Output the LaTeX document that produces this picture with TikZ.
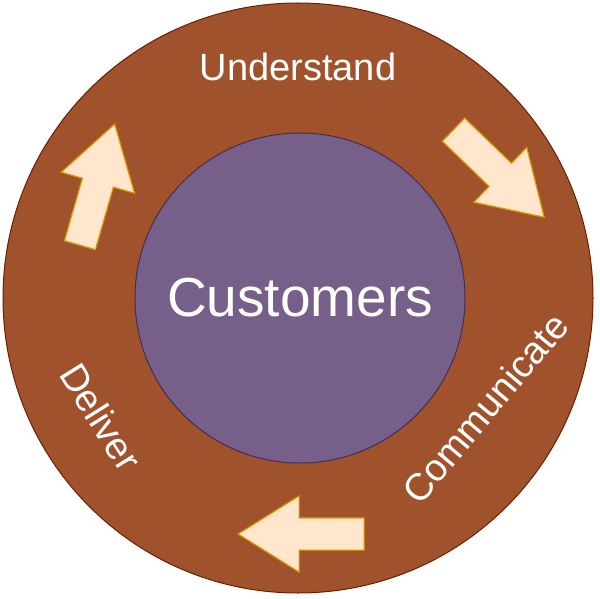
\documentclass[tikz,border=0pt]{standalone}
\usepackage{fontspec}
\setmainfont{Liberation Sans}
\usetikzlibrary{shapes.arrows,positioning}
\definecolor{ringfill}{HTML}{A0522D}
\definecolor{ringline}{HTML}{6D1F00}
\definecolor{custfill}{HTML}{76608A}
\definecolor{custline}{HTML}{432D57}
\definecolor{arrowfill}{HTML}{FFE6CC}
\definecolor{arrowline}{HTML}{D79B00}

\begin{document}
\begin{tikzpicture}[x=1pt,y=-1pt,
  ring/.style={circle,fill=ringfill,draw=ringline,line width=1pt,inner sep=0pt},
  hub/.style={circle,fill=custfill,draw=custline,line width=1pt,inner sep=0pt,
    text=white,font=\fontsize{55}{60}\selectfont},
  stage/.style={text=white,inner sep=0pt,font=\fontsize{38}{42}\selectfont},
  flow/.style={single arrow,fill=arrowfill,draw=arrowline,line width=1.2pt,
    inner xsep=0pt,inner ysep=15.5pt,single arrow head extend=22pt,
    single arrow tip angle=64,minimum height=126pt,anchor=tip}]
  \useasboundingbox (0,0) rectangle (600,599);
  \node[ring,minimum size=590pt] (ring) at (298,298) {};
  \node[hub,minimum size=330pt] (customers) at (300,298) {Customers};
  \node[stage] (understand) at (298,67) {Understand};
  \node[stage,rotate=50] (communicate) at (485,408) {Communicate};
  \node[stage,rotate=-58] (deliver) at (101,417) {Deliver};
  \node[flow,rotate=-44] (toright) at (545,218) {};
  \node[flow,rotate=180] (toleft) at (237,534) {};
  \node[flow,rotate=74] (toup) at (115,123) {};
\end{tikzpicture}
\end{document}
